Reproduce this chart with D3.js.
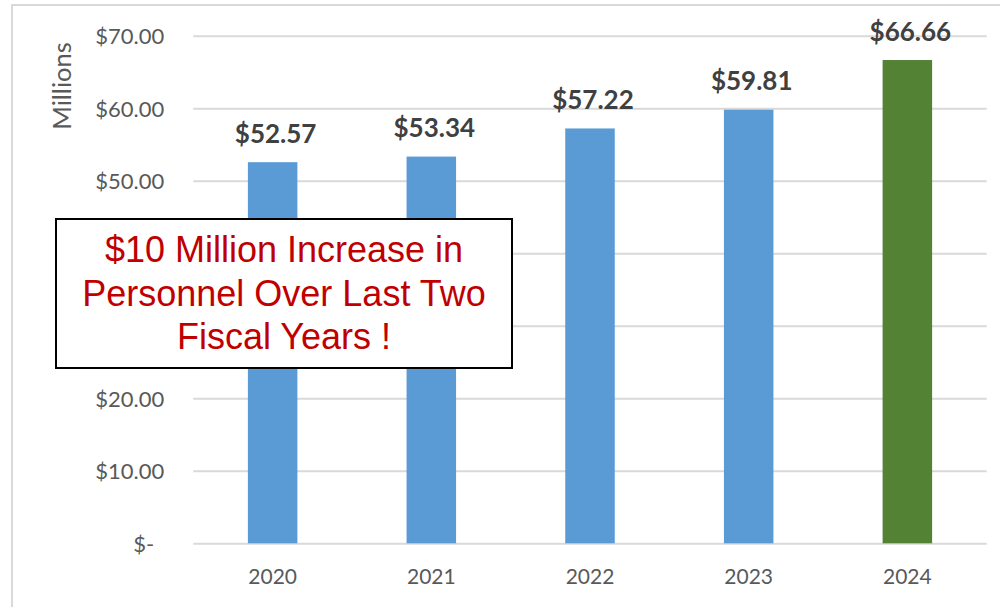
<!DOCTYPE html>
<html>
<head>
<meta charset="utf-8">
<script src="https://cdn.jsdelivr.net/npm/d3@7/dist/d3.min.js"></script>
<style>
  html, body { margin: 0; padding: 0; background: #ffffff; }
  svg { display: block; }
</style>
</head>
<body>
<svg id="chart" width="1000" height="607"></svg>
<script>
// Personnel spending by fiscal year, in millions of dollars
const years = ["2020", "2021", "2022", "2023", "2024"];
const values = [52.57, 53.34, 57.22, 59.81, 66.66];
const barColors = ["#5b9bd5", "#5b9bd5", "#5b9bd5", "#5b9bd5", "#548235"];
const yTicks = [0, 10, 20, 30, 40, 50, 60, 70];
const axisTitle = "Millions";
const calloutLines = ["$10 Million Increase in", "Personnel Over Last Two", "Fiscal Years !"];

const W = 1000, H = 607;
const plot = { left: 193.3, right: 986.7, top: 35.8, bottom: 543.3 };
const box = { x: 56, y: 219, w: 456, h: 149 };

const svg = d3.select("#chart");

// chart frame
svg.append("rect")
  .attr("x", 12).attr("y", 5)
  .attr("width", W + 20).attr("height", H + 20)
  .attr("fill", "#ffffff")
  .attr("stroke", "#d9d9d9")
  .attr("stroke-width", 2);

const x = d3.scaleBand()
  .domain(years)
  .range([plot.left, plot.right])
  .paddingInner(0.688)
  .paddingOuter(0.344);

const y = d3.scaleLinear()
  .domain([0, 70])
  .range([plot.bottom, plot.top]);

const money = d => d === 0 ? "$-" : "$" + d3.format(",.2f")(d);

// horizontal gridlines + y tick labels
const yAxis = d3.axisLeft(y)
  .tickValues(yTicks)
  .tickSize(-(plot.right - plot.left))
  .tickPadding(29)
  .tickFormat(money);

const gy = svg.append("g")
  .attr("transform", `translate(${plot.left},0)`)
  .call(yAxis);
gy.select(".domain").remove();
gy.selectAll(".tick line")
  .attr("stroke", "#d9d9d9")
  .attr("stroke-width", 2);
gy.selectAll(".tick text")
  .attr("fill", "#595959")
  .style("font-family", "Lato, 'Open Sans', sans-serif")
  .style("font-size", "22px")
  .attr("dy", "0.36em")
  .attr("dx", d => d === 0 ? -10 : 0);
// labels that sit behind the callout box are covered by it anyway
gy.selectAll(".tick text")
  .filter(d => y(d) > box.y && y(d) < box.y + box.h)
  .remove();

// axis title
svg.append("text")
  .attr("transform", `translate(71,86) rotate(-90)`)
  .attr("text-anchor", "middle")
  .attr("fill", "#595959")
  .style("font-family", "Lato, 'Open Sans', sans-serif")
  .style("font-size", "25.5px")
  .text(axisTitle);

// x axis category labels
const xAxis = d3.axisBottom(x).tickSize(0).tickPadding(26);
const gx = svg.append("g")
  .attr("transform", `translate(0,${plot.bottom})`)
  .call(xAxis);
gx.select(".domain").remove();
gx.selectAll(".tick text")
  .attr("fill", "#595959")
  .style("font-family", "Lato, 'Open Sans', sans-serif")
  .style("font-size", "21px");

// bars
svg.append("g")
  .selectAll("rect")
  .data(years)
  .join("rect")
  .attr("x", d => x(d))
  .attr("width", x.bandwidth())
  .attr("y", (d, i) => y(values[i]))
  .attr("height", (d, i) => y(0) - y(values[i]))
  .attr("fill", (d, i) => barColors[i]);

// value labels
svg.append("g")
  .selectAll("text")
  .data(years)
  .join("text")
  .attr("x", d => x(d) + x.bandwidth() / 2 + 3)
  .attr("y", (d, i) => y(values[i]) - 19.5)
  .attr("text-anchor", "middle")
  .attr("fill", "#404040")
  .style("font-family", "Lato, 'Open Sans', sans-serif")
  .style("font-weight", "700")
  .style("font-size", "26px")
  .text((d, i) => money(values[i]));

// callout box
svg.append("rect")
  .attr("x", box.x).attr("y", box.y)
  .attr("width", box.w).attr("height", box.h)
  .attr("fill", "#ffffff")
  .attr("stroke", "#000000")
  .attr("stroke-width", 2);

svg.append("g")
  .selectAll("text")
  .data(calloutLines)
  .join("text")
  .attr("x", box.x + box.w / 2)
  .attr("y", (d, i) => 262 + i * 43.5)
  .attr("text-anchor", "middle")
  .attr("fill", "#c00000")
  .style("font-family", "'Liberation Sans', Arial, sans-serif")
  .style("font-size", "36px")
  .text(d => d);
</script>
</body>
</html>
